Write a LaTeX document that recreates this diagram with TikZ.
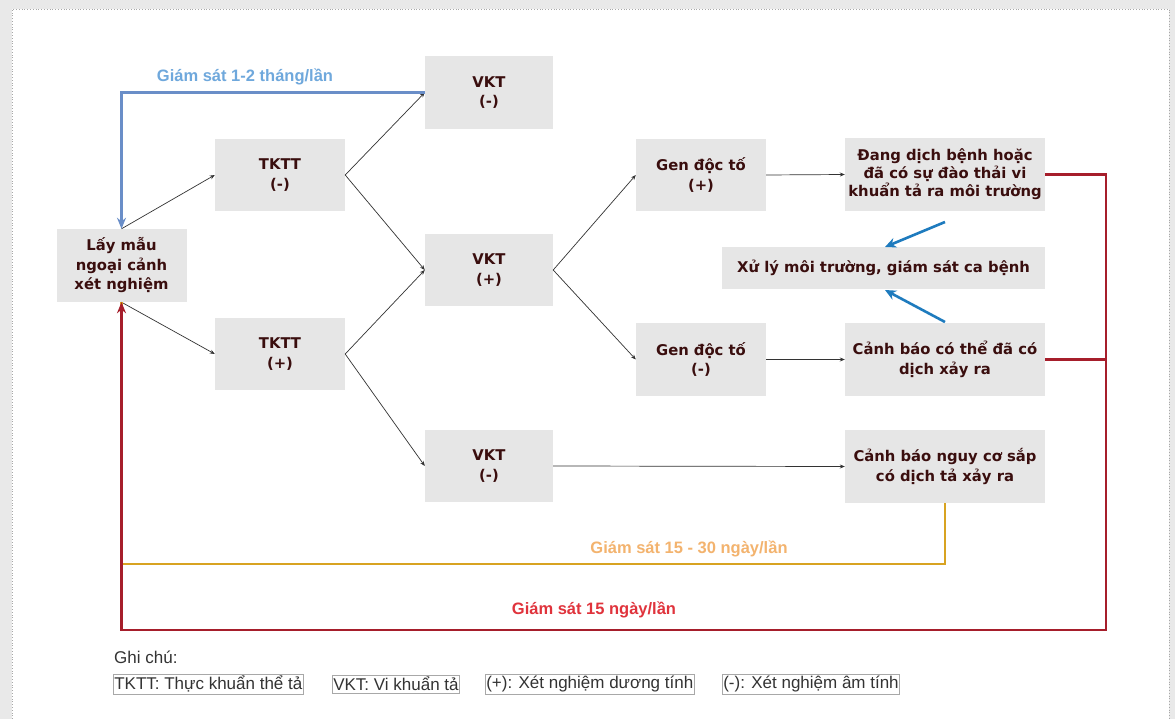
\documentclass[tikz,border=0pt]{standalone}
\usepackage{fontspec}
\setmainfont{Liberation Sans}
\newfontfamily\boxfont{DejaVu Sans}
\usetikzlibrary{arrows.meta}
\definecolor{bggray}{HTML}{E9E9E9}
\definecolor{bordergray}{HTML}{A8A8A8}
\definecolor{boxgray}{HTML}{E6E6E6}
\definecolor{txtbrown}{HTML}{3A0E0E}
\definecolor{arrgray}{HTML}{333333}
\definecolor{bluefb}{HTML}{6A8EC8}
\definecolor{bluelbl}{HTML}{6FA8DC}
\definecolor{bluediag}{HTML}{1E7BBE}
\definecolor{orangeln}{HTML}{D8A321}
\definecolor{orangelbl}{HTML}{F3B36E}
\definecolor{redln}{HTML}{A61E2B}
\definecolor{redlbl}{HTML}{E0333C}
\definecolor{legtxt}{HTML}{333333}
\begin{document}
\begin{tikzpicture}[x=1pt,y=-1pt,
  box/.style={fill=boxgray, text=txtbrown, align=center, inner sep=0pt,
    font=\boxfont\bfseries\fontsize{14.8}{19.5}\selectfont},
  smallbox/.style={box, minimum width=130pt, minimum height=72pt},
  bigbox/.style={box, minimum width=200pt, minimum height=73pt},
  arr/.style={draw=arrgray, line width=0.7pt, -{Stealth[length=5pt,width=4pt]}},
  fbline/.style={line width=2.6pt, rounded corners=0pt},
  lbl/.style={font=\bfseries\fontsize{16.5}{19}\selectfont, inner sep=0pt},
  legbox/.style={draw=bordergray, line width=0.6pt, text=legtxt, inner xsep=1pt, inner ysep=2pt,
    font=\fontsize{17}{19}\selectfont, anchor=west}
]
\fill[bggray] (0,0) rectangle (1175,719);
\useasboundingbox (0,0) rectangle (1175,719);
\fill[white] (12,9) rectangle (1169,719);
\draw[bordergray, dotted, line width=0.8pt] (12,719) -- (12,9) -- (1169,9) -- (1169,719);

% nodes
\node[smallbox, minimum width=130pt, minimum height=73pt] (L) at (121.5,265.5) {Lấy mẫu\\ngoại cảnh\\xét nghiệm};
\node[smallbox] (T1) at (280,175) {TKTT\\(-)};
\node[smallbox] (T2) at (280,354) {TKTT\\(+)};
\node[smallbox, minimum width=128pt, minimum height=73pt] (V1) at (489,92.5) {VKT\\(-)};
\node[smallbox, minimum width=128pt] (V2) at (489,270) {VKT\\(+)};
\node[smallbox, minimum width=128pt] (V3) at (489,466) {VKT\\(-)};
\node[smallbox] (G1) at (701,175) {Gen độc tố\\(+)};
\node[smallbox, minimum height=73pt] (G2) at (701,359.5) {Gen độc tố\\(-)};
\node[bigbox, font=\boxfont\bfseries\fontsize{14.8}{18}\selectfont] (D) at (945,174.5) {Đang dịch bệnh hoặc\\đã có sự đào thải vi\\khuẩn tả ra môi trường};
\node[box, minimum width=323pt, minimum height=42pt] (X) at (883.5,268) {Xử lý môi trường, giám sát ca bệnh};
\node[bigbox] (C1) at (945,359.5) {Cảnh báo có thể đã có\\dịch xảy ra};
\node[bigbox] (C2) at (945,466.5) {Cảnh báo nguy cơ sắp\\có dịch tả xảy ra};

% black arrows
\draw[arr] (L.north) -- (T1.west);
\draw[arr] (L.south) -- (T2.west);
\draw[arr] (T1.east) -- (V1.west);
\draw[arr] (T1.east) -- (V2.west);
\draw[arr] (T2.east) -- (V2.west);
\draw[arr] (T2.east) -- (V3.west);
\draw[arr] (V2.east) -- (G1.west);
\draw[arr] (V2.east) -- (G2.west);
\draw[arr] (G1.east) -- (D.west);
\draw[arr] (G2.east) -- (C1.west);
\draw[arr] (V3.east) -- (C2.west);

% blue diagonal arrows
\coordinate (b1) at (945,222);
\coordinate (b2) at (885,247);
\coordinate (b3) at (945,322);
\coordinate (b4) at (885,290);
\draw[bluediag, line width=2.6pt, -{Stealth[length=11pt,width=10pt]}] (b1) -- (b2);
\draw[bluediag, line width=2.6pt, -{Stealth[length=11pt,width=10pt]}] (b3) -- (b4);

% feedback loops
\coordinate (o1) at (121.5,564);
\coordinate (r1) at (1106,630);
\draw[orangeln, fbline] (C2.south) |- (o1) -- (L.south);
\draw[redln, fbline, -{Stealth[length=11pt,width=9pt]}] (D.east) -| (r1) -| (L.south);
\draw[redln, fbline] (C1.east) -- (C1.east -| r1);
\draw[bluefb, fbline, -{Stealth[length=11pt,width=9pt]}] (V1.west) -| (L.north);

% labels
\node[lbl, text=bluelbl] (lb1) at (245,77) {Giám sát 1-2 tháng/lần};
\node[lbl, text=orangelbl] (lb2) at (689,549) {Giám sát 15 - 30 ngày/lần};
\node[lbl, text=redlbl] (lb3) at (594,610) {Giám sát 15 ngày/lần};

% legend
\node[anchor=west, text=legtxt, font=\fontsize{17}{19}\selectfont, inner sep=0pt] (gc) at (114,657) {Ghi chú:};
\node[legbox] (k1) at (113,684) {TKTT: Thực khuẩn thể tả};
\node[legbox] (k2) at (332,684) {VKT: Vi khuẩn tả};
\node[legbox] (k3) at (485,684) {(+): Xét nghiệm dương tính};
\node[legbox] (k4) at (722,684) {(-): Xét nghiệm âm tính};
\end{tikzpicture}
\end{document}
